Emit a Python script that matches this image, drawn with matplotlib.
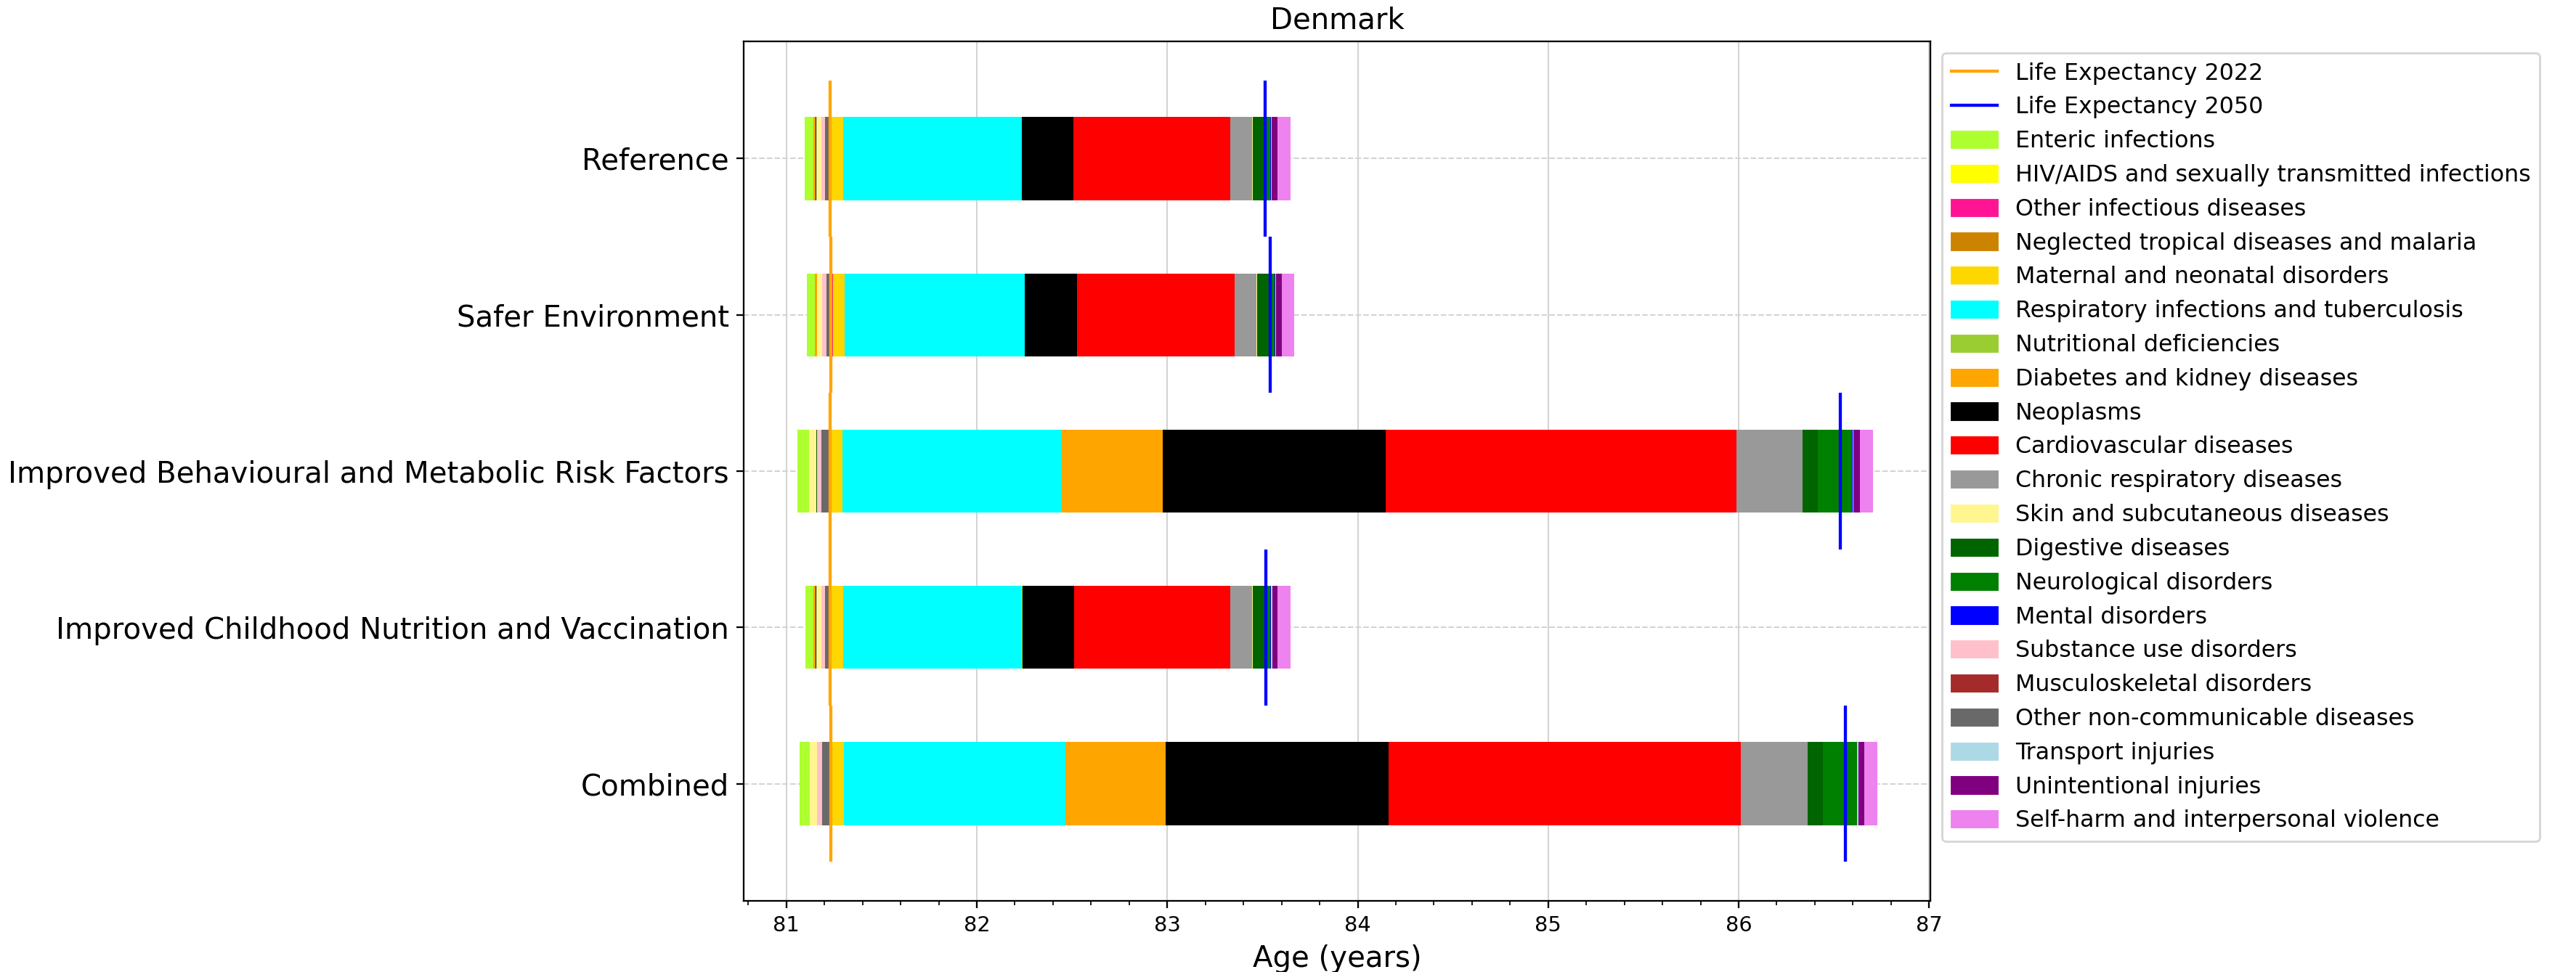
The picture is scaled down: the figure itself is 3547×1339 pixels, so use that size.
import matplotlib
matplotlib.use('Agg')
import matplotlib.pyplot as plt
from matplotlib.lines import Line2D
from matplotlib.patches import Patch
from matplotlib.ticker import AutoMinorLocator

scenarios = ['Reference', 'Safer Environment',
             'Improved Behavioural and Metabolic Risk Factors',
             'Improved Childhood Nutrition and Vaccination', 'Combined']

causes = ['Enteric infections', 'HIV/AIDS and sexually transmitted infections',
          'Other infectious diseases', 'Neglected tropical diseases and malaria',
          'Maternal and neonatal disorders', 'Respiratory infections and tuberculosis',
          'Nutritional deficiencies', 'Diabetes and kidney diseases', 'Neoplasms',
          'Cardiovascular diseases', 'Chronic respiratory diseases',
          'Skin and subcutaneous diseases', 'Digestive diseases',
          'Neurological disorders', 'Mental disorders', 'Substance use disorders',
          'Musculoskeletal disorders', 'Other non-communicable diseases',
          'Transport injuries', 'Unintentional injuries',
          'Self-harm and interpersonal violence']

colors = ['greenyellow', 'yellow', 'deeppink', '#CC8400', 'gold', 'cyan',
          'yellowgreen', 'orange', 'black', 'red', '#999999', '#FFF68F',
          'darkgreen', 'green', 'blue', 'pink', 'brown', 'dimgray',
          'lightblue', 'purple', 'violet']

le2022 = [81.228, 81.235, 81.228, 81.228, 81.235]
le2050 = [83.515, 83.541, 86.535, 83.518, 86.562]

# years gained per cause (stacked right of 2022 line)
ref_gain = [0, 0, 0.010, 0, 0.0596, 0.9365, 0.0025, 0, 0.2705, 0.822, 0.1166, 0.002,
            0.064, 0.029, 0.002, 0, 0, 0, 0.007, 0.028, 0.0685]
safe_gain = [0, 0, 0.010, 0, 0.061, 0.944, 0.002, 0, 0.274, 0.826, 0.1166, 0.003,
             0.064, 0.028, 0.002, 0, 0, 0, 0.006, 0.028, 0.0685]
behav_gain = [0, 0, 0.008, 0, 0.0596, 1.152, 0, 0.528, 1.171, 1.843, 0.346, 0,
              0.0785, 0.181, 0.002, 0, 0, 0, 0.0045, 0.0365, 0.0685]
child_gain = [0, 0, 0.010, 0, 0.0596, 0.939, 0.0025, 0, 0.2705, 0.820, 0.1166, 0.002,
              0.064, 0.029, 0.002, 0, 0, 0, 0.007, 0.028, 0.0685]
comb_gain = [0, 0, 0.008, 0, 0.061, 1.160, 0, 0.526, 1.172, 1.848, 0.351, 0,
             0.0803, 0.179, 0.002, 0, 0, 0, 0.006, 0.032, 0.0685]

# years lost per cause (stacked left of 2022 line)
ref_loss = [0.0457, 0, 0, 0, 0, 0, 0, 0.0114, 0.0038, 0, 0, 0.0267,
            0, 0, 0, 0.019, 0, 0.0241, 0, 0, 0]
safe_loss = [0.0419, 0, 0, 0, 0, 0, 0, 0.0114, 0, 0, 0, 0.0267,
             0, 0, 0, 0.0228, 0, 0.023, 0, 0, 0]
behav_loss = [0.061, 0, 0, 0, 0, 0, 0, 0, 0, 0, 0, 0.0355,
              0.0038, 0, 0, 0.0254, 0, 0.043, 0, 0, 0]
child_loss = [0.0419, 0, 0, 0, 0, 0, 0, 0.0114, 0.0038, 0, 0, 0.0267,
              0, 0, 0, 0.019, 0, 0.0241, 0, 0, 0]
comb_loss = [0.0533, 0, 0, 0, 0, 0, 0, 0, 0, 0, 0, 0.038,
             0, 0, 0, 0.0266, 0, 0.0457, 0, 0, 0]

gains = [ref_gain, safe_gain, behav_gain, child_gain, comb_gain]
losses = [ref_loss, safe_loss, behav_loss, child_loss, comb_loss]

dpi = 207
fig = plt.figure(figsize=(3547 / dpi, 1339 / dpi), dpi=dpi)
ax = fig.add_axes([0.2887, 0.0732, 0.4607, 0.8842])
ax.set_axisbelow(True)

h = 0.53
for i in range(len(scenarios)):
    left = le2022[i] - sum(losses[i])
    for k, v in enumerate(losses[i]):
        if v > 0:
            ax.barh(i, v, left=left, height=h, color=colors[k])
            left += v
    left = le2022[i]
    for k, v in enumerate(gains[i]):
        if v > 0:
            ax.barh(i, v, left=left, height=h, color=colors[k])
            left += v
    ax.vlines(le2022[i], i - 0.5, i + 0.5, color='orange', lw=1.5, zorder=3)
    ax.vlines(le2050[i], i - 0.5, i + 0.5, color='blue', lw=1.5, zorder=3)

ax.set_yticks(range(len(scenarios)))
ax.set_yticklabels(scenarios, fontsize=14)
ax.set_ylim(4.75, -0.75)
ax.set_xlim(80.776, 87.007)
ax.xaxis.set_minor_locator(AutoMinorLocator())
ax.grid(axis='x', color='lightgray', lw=0.7)
ax.grid(axis='y', linestyle='--', color='lightgray', lw=0.7)
ax.set_xlabel('Age (years)', fontsize=14)
ax.set_title('Denmark', fontsize=14)

handles = [Line2D([0], [0], color='orange', lw=1.5),
           Line2D([0], [0], color='blue', lw=1.5)]
handles += [Patch(color=c) for c in colors]
labels = ['Life Expectancy 2022', 'Life Expectancy 2050'] + causes
ax.legend(handles, labels, loc='upper left', bbox_to_anchor=(1, 1), fontsize=11)

fig.savefig('out.png', dpi=dpi)
